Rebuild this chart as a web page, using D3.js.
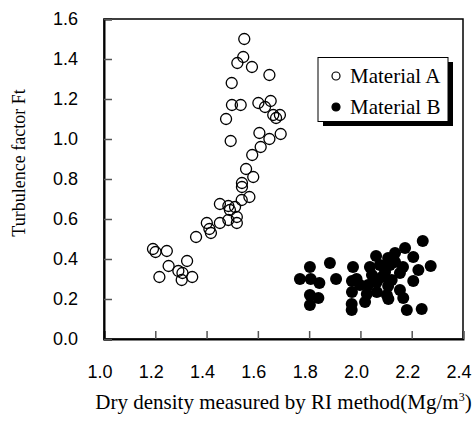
<!DOCTYPE html>
<html>
<head>
<meta charset="utf-8">
<script src="https://cdn.jsdelivr.net/npm/d3@7"></script>
<style>
  body { margin: 0; background: #fff; }
</style>
</head>
<body>
<div id="chart"></div>
<script>
// Material A (open circles): dry density, turbulence factor
const materialA_x = [1.547, 1.543, 1.520, 1.577, 1.645, 1.498, 1.499, 1.533, 1.602, 1.650,
  1.628, 1.660, 1.686, 1.671, 1.476, 1.606, 1.689, 1.645, 1.494, 1.611,
  1.578, 1.554, 1.582, 1.538, 1.538, 1.567, 1.537, 1.452, 1.485, 1.511,
  1.491, 1.518, 1.485, 1.452, 1.518, 1.401, 1.411, 1.417, 1.359, 1.191,
  1.201, 1.245, 1.324, 1.252, 1.290, 1.306, 1.216, 1.344, 1.303];
const materialA_y = [1.50, 1.41, 1.38, 1.36, 1.32, 1.28, 1.17, 1.17, 1.18, 1.19,
  1.16, 1.12, 1.12, 1.105, 1.10, 1.03, 1.025, 1.00, 0.99, 0.96,
  0.92, 0.85, 0.81, 0.78, 0.76, 0.71, 0.695, 0.675, 0.665, 0.66,
  0.645, 0.61, 0.595, 0.58, 0.58, 0.58, 0.55, 0.53, 0.51, 0.45,
  0.435, 0.44, 0.39, 0.365, 0.34, 0.33, 0.31, 0.31, 0.295];

// Material B (filled circles)
const materialB_x = [2.243, 2.174, 2.135, 2.061, 2.206, 1.881, 1.971, 2.037, 1.803, 2.274,
  2.226, 2.115, 2.154, 2.096, 1.764, 1.806, 1.840, 1.905, 1.967, 1.985,
  2.064, 2.122, 2.206, 2.084, 2.108, 1.967, 1.803, 1.836, 1.803, 1.966,
  1.966, 2.025, 2.018, 2.064, 2.109, 2.154, 2.167, 2.181, 2.239, 2.103,
  2.166, 2.045, 2.135, 1.998, 2.030, 2.076, 2.108];
const materialB_y = [0.49, 0.455, 0.43, 0.415, 0.41, 0.38, 0.36, 0.36, 0.36, 0.365,
  0.345, 0.37, 0.33, 0.335, 0.30, 0.30, 0.28, 0.30, 0.29, 0.30,
  0.285, 0.295, 0.29, 0.31, 0.265, 0.235, 0.22, 0.205, 0.17, 0.175,
  0.145, 0.225, 0.185, 0.235, 0.20, 0.245, 0.205, 0.145, 0.15, 0.22,
  0.36, 0.32, 0.385, 0.27, 0.27, 0.37, 0.405];

const xTicks = [1.0, 1.2, 1.4, 1.6, 1.8, 2.0, 2.2, 2.4];
const yTicks = [0.0, 0.2, 0.4, 0.6, 0.8, 1.0, 1.2, 1.4, 1.6];
const seriesNames = ["Material A", "Material B"];

const width = 474, height = 422;
const margin = { left: 104, right: 11, top: 19, bottom: 83 };

const svg = d3.select("#chart").append("svg")
  .attr("width", width)
  .attr("height", height);

const x = d3.scaleLinear().domain([1.0, 2.4]).range([margin.left, width - margin.right]);
const y = d3.scaleLinear().domain([0, 1.6]).range([height - margin.bottom, margin.top]);

// Frame
svg.append("rect")
  .attr("x", x(1.0)).attr("y", y(1.6))
  .attr("width", x(2.4) - x(1.0)).attr("height", y(0) - y(1.6))
  .attr("fill", "none").attr("stroke", "#000").attr("stroke-width", 1.5);

// Axes with inward ticks
const xAxis = svg.append("g")
  .attr("transform", `translate(0,${y(0)})`)
  .call(d3.axisTop(x).tickValues(xTicks).tickSize(8).tickFormat(""));
const yAxis = svg.append("g")
  .attr("transform", `translate(${x(1.0)},0)`)
  .call(d3.axisRight(y).tickValues(yTicks).tickSize(8).tickFormat(""));
[xAxis, yAxis].forEach(g => {
  g.select(".domain").attr("stroke", "#000").attr("stroke-width", 2);
  g.selectAll(".tick line").attr("stroke", "#555").attr("stroke-width", 1.5);
});

// Tick labels
svg.append("g").selectAll("text")
  .data(xTicks).join("text")
  .attr("x", d => x(d) - 4).attr("y", y(0) + 39)
  .attr("text-anchor", "middle")
  .attr("font-family", "Liberation Sans, Arial, sans-serif")
  .attr("font-size", 18)
  .text(d => d.toFixed(1));
svg.append("g").selectAll("text")
  .data(yTicks).join("text")
  .attr("x", 78).attr("y", d => y(d))
  .attr("dy", "0.36em")
  .attr("text-anchor", "end")
  .attr("font-family", "Liberation Sans, Arial, sans-serif")
  .attr("font-size", 18)
  .text(d => d.toFixed(1));

// Points
svg.append("g").selectAll("circle")
  .data(materialA_x.map((d, i) => [d, materialA_y[i]])).join("circle")
  .attr("cx", d => x(d[0])).attr("cy", d => y(d[1]))
  .attr("r", 5.5)
  .attr("fill", "none").attr("stroke", "#000").attr("stroke-width", 1.3);
svg.append("g").selectAll("circle")
  .data(materialB_x.map((d, i) => [d, materialB_y[i]])).join("circle")
  .attr("cx", d => x(d[0])).attr("cy", d => y(d[1]))
  .attr("r", 6)
  .attr("fill", "#000");

// Axis titles
svg.append("text")
  .attr("x", 283.5).attr("y", 409)
  .attr("text-anchor", "middle")
  .attr("font-family", "Liberation Serif, Times New Roman, serif")
  .attr("font-size", 21)
  .html('Dry density measured by RI method(Mg/m<tspan dy="-8" font-size="12">3</tspan><tspan dy="8">)</tspan>');
svg.append("text")
  .attr("transform", "translate(25,163) rotate(-90)")
  .attr("text-anchor", "middle")
  .attr("font-family", "Liberation Serif, Times New Roman, serif")
  .attr("font-size", 18)
  .text("Turbulence factor Ft");

// Legend
const legend = svg.append("g");
legend.append("rect")
  .attr("x", 323).attr("y", 62).attr("width", 130).attr("height", 64)
  .attr("fill", "#000");
legend.append("rect")
  .attr("x", 318).attr("y", 57.5).attr("width", 130).attr("height", 64)
  .attr("fill", "#fff").attr("stroke", "#000").attr("stroke-width", 1);
seriesNames.forEach((name, i) => {
  const ly = 76 + i * 31;
  legend.append("circle")
    .attr("cx", 336).attr("cy", ly).attr("r", 4)
    .attr("fill", i === 0 ? "none" : "#000")
    .attr("stroke", "#000").attr("stroke-width", 1.2);
  legend.append("text")
    .attr("x", 350).attr("y", ly + 7)
    .attr("font-family", "Liberation Serif, Times New Roman, serif")
    .attr("font-size", 21)
    .text(name);
});
</script>
</body>
</html>
